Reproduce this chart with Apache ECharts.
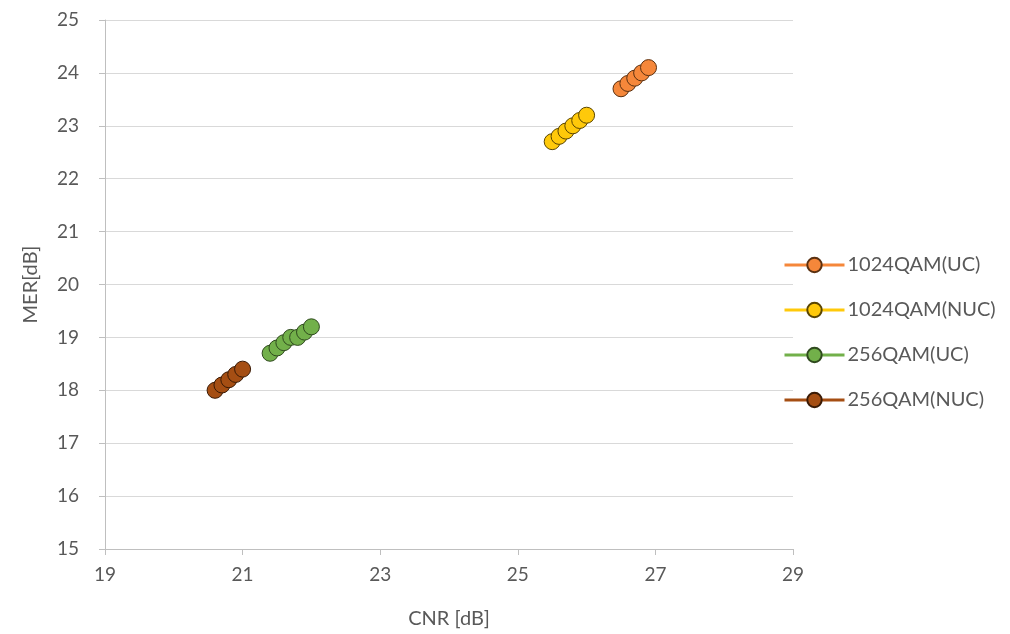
<!DOCTYPE html>
<html><head><meta charset="utf-8">
<script src="https://cdn.jsdelivr.net/npm/echarts@6/dist/echarts.min.js"></script>
<style>html,body{margin:0;padding:0;background:#fff}#c{width:1010px;height:634px}</style>
</head><body><div id="c"></div>
<script>
const seriesNames = ['1024QAM(UC)', '1024QAM(NUC)', '256QAM(UC)', '256QAM(NUC)'];
const uc1024X = [26.5, 26.6, 26.7, 26.8, 26.9];
const uc1024Y = [23.7, 23.8, 23.9, 24.0, 24.1];
const nuc1024X = [25.5, 25.6, 25.7, 25.8, 25.9, 26.0];
const nuc1024Y = [22.7, 22.8, 22.9, 23.0, 23.1, 23.2];
const uc256X = [21.4, 21.5, 21.6, 21.7, 21.8, 21.9, 22.0];
const uc256Y = [18.7, 18.8, 18.9, 19.0, 19.0, 19.1, 19.2];
const nuc256X = [20.6, 20.7, 20.8, 20.9, 21.0];
const nuc256Y = [18.0, 18.1, 18.2, 18.3, 18.4];
const xTicks = [19, 21, 23, 25, 27, 29];
const yTicks = [15, 16, 17, 18, 19, 20, 21, 22, 23, 24, 25];

const colors = ['#F5873A', '#FFC90A', '#72B04A', '#A54E13'];
const borders = ['#5A3010', '#5A4500', '#2F4A1E', '#3A1A05'];
const xs = [uc1024X, nuc1024X, uc256X, nuc256X];
const ys = [uc1024Y, nuc1024Y, uc256Y, nuc256Y];
const font = 'Lato, "Open Sans", sans-serif';

const chart = echarts.init(document.getElementById('c'), null, {renderer: 'canvas'});
chart.setOption({
  animation: false,
  backgroundColor: '#fff',
  textStyle: {fontFamily: font},
  grid: {left: 105, right: 217, top: 20, bottom: 83},
  xAxis: {
    type: 'value', min: xTicks[0], max: xTicks[xTicks.length - 1], interval: 2,
    name: 'CNR [dB]', nameLocation: 'middle', nameGap: 60,
    nameTextStyle: {color: '#595959', fontSize: 20, fontFamily: font},
    axisLine: {show: true, lineStyle: {color: '#BFBFBF', width: 1}},
    axisTick: {show: true, length: 6, lineStyle: {color: '#BFBFBF'}},
    axisLabel: {color: '#595959', fontSize: 19, margin: 16, fontFamily: font},
    splitLine: {show: false}
  },
  yAxis: {
    type: 'value', min: yTicks[0], max: yTicks[yTicks.length - 1], interval: 1,
    name: 'MER[dB]', nameLocation: 'middle', nameGap: 64, nameRotate: 90,
    nameTextStyle: {color: '#595959', fontSize: 20, fontFamily: font},
    axisLine: {show: true, lineStyle: {color: '#BFBFBF', width: 1}},
    axisTick: {show: true, length: 6, lineStyle: {color: '#BFBFBF'}},
    axisLabel: {color: '#595959', fontSize: 19, margin: 26, fontFamily: font},
    splitLine: {show: true, lineStyle: {color: '#D9D9D9', width: 1}}
  },
  legend: {
    orient: 'vertical', left: 778, top: 250, itemGap: 25,
    itemWidth: 60, itemHeight: 18,
    lineStyle: {width: 3},
    textStyle: {color: '#595959', fontSize: 20, fontFamily: font, padding: [0, 0, 0, -2]},
    data: seriesNames
  },
  series: seriesNames.map((n, i) => ({
    name: n, type: 'line',
    data: xs[i].map((x, j) => [x, ys[i][j]]),
    symbol: 'circle', symbolSize: 16,
    lineStyle: {width: 3, color: colors[i]},
    itemStyle: {color: colors[i], borderColor: borders[i], borderWidth: 1}
  }))
});
</script></body></html>
